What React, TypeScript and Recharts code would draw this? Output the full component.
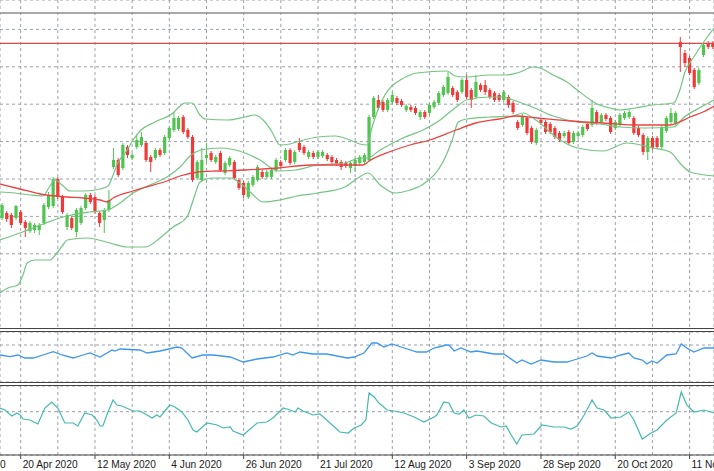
import React from 'react';
import { ComposedChart, Bar, Line, XAxis, YAxis, CartesianGrid, ReferenceLine } from 'recharts';

// ---- daily candles (price in chart points) ----
const OPEN = [
  111, 116, 114, 111, 117, 107, 98, 99, 99, 106,
  122, 123, 150, 132, 102, 111, 97, 106, 121, 134,
  132, 116, 109, 119, 162, 169, 161, 182, 171, 182,
  184, 186, 172, 171, 179, 176, 191, 199, 200, 212,
  199, 192, 151, 149, 171, 176, 167, 176, 156, 164,
  167, 149, 146, 132, 144, 149, 157, 152, 152, 159,
  167, 169, 179, 167, 186, 182, 172, 176, 172, 173,
  174, 172, 169, 167, 166, 161, 163, 166, 167, 169,
  212, 229, 227, 219, 227, 231, 228, 219, 222, 221,
  212, 217, 216, 222, 226, 234, 236, 241, 237, 237,
  249, 239, 232, 244, 244, 239, 236, 234, 229, 232,
  226, 207, 204, 211, 201, 186, 209, 207, 205, 201,
  196, 193, 197, 187, 193, 194, 205, 204, 217, 207,
  214, 211, 201, 204, 211, 212, 211, 201, 194, 177,
  191, 191, 182, 198, 207, 206, 287, 276, 271, 259,
  246, 274, 286, 286,
];
const CLOSE = [
  124, 110, 104, 123, 106, 101, 106, 104, 104, 124,
  134, 150, 132, 117, 114, 101, 119, 121, 134, 127,
  117, 106, 119, 129, 169, 154, 184, 174, 174, 189,
  192, 169, 167, 179, 174, 192, 201, 211, 211, 197,
  192, 149, 167, 169, 174, 169, 172, 159, 166, 171,
  151, 141, 134, 146, 152, 162, 152, 157, 159, 169,
  163, 179, 166, 177, 179, 176, 177, 172, 177, 177,
  170, 167, 165, 162, 163, 166, 169, 172, 174, 212,
  231, 221, 219, 229, 234, 226, 224, 223, 219, 216,
  217, 212, 224, 227, 236, 242, 252, 234, 229, 249,
  232, 229, 247, 239, 237, 232, 229, 229, 237, 224,
  217, 201, 213, 196, 187, 199, 206, 197, 197, 192,
  189, 196, 186, 196, 196, 202, 200, 221, 206, 214,
  210, 197, 207, 214, 216, 217, 196, 194, 177, 191,
  181, 182, 202, 211, 216, 216, 282, 266, 256, 242,
  259, 284, 282, 282,
];
const HIGH = [
  126, 118, 116, 124, 119, 109, 108, 106, 106, 126,
  137, 152, 152, 134, 116, 113, 121, 123, 136, 136,
  134, 118, 121, 139, 181, 171, 186, 184, 176, 194,
  197, 188, 174, 181, 181, 194, 203, 217, 213, 214,
  201, 194, 169, 181, 186, 178, 174, 178, 168, 173,
  169, 151, 148, 148, 154, 164, 159, 159, 161, 171,
  169, 181, 181, 179, 191, 184, 179, 178, 179, 179,
  176, 174, 171, 169, 168, 168, 171, 174, 176, 214,
  233, 234, 229, 231, 237, 233, 230, 225, 224, 223,
  219, 219, 226, 229, 238, 244, 257, 243, 239, 251,
  254, 241, 254, 246, 249, 241, 238, 236, 239, 234,
  228, 209, 215, 213, 203, 201, 211, 209, 207, 203,
  198, 198, 199, 198, 198, 204, 207, 229, 219, 216,
  216, 213, 209, 216, 218, 219, 213, 203, 196, 193,
  193, 193, 204, 213, 221, 218, 292, 279, 273, 261,
  261, 286, 288, 288,
];
const LOW = [
  109, 107, 101, 109, 104, 92, 96, 96, 94, 104,
  120, 121, 130, 115, 99, 99, 92, 104, 119, 125,
  115, 102, 96, 117, 160, 152, 159, 171, 169, 180,
  182, 167, 157, 169, 172, 174, 189, 197, 198, 195,
  190, 147, 149, 147, 167, 167, 165, 157, 154, 162,
  149, 139, 131, 130, 142, 147, 150, 150, 150, 157,
  161, 167, 164, 165, 177, 174, 170, 170, 170, 171,
  168, 165, 163, 159, 161, 156, 157, 163, 165, 167,
  210, 219, 217, 217, 225, 224, 222, 217, 217, 214,
  209, 210, 214, 220, 224, 232, 234, 232, 227, 235,
  230, 221, 230, 237, 234, 230, 227, 227, 227, 221,
  215, 199, 202, 194, 185, 184, 204, 195, 195, 190,
  187, 191, 184, 185, 191, 192, 198, 202, 204, 205,
  208, 195, 199, 202, 209, 210, 194, 192, 174, 169,
  179, 180, 180, 196, 205, 204, 257, 262, 254, 240,
  244, 272, 280, 280,
];

// ---- indicator lines: [bar position, value] ----
const UPPER_BAND = [
  [-0.45, 137], [2.8, 136], [6.0, 134], [8.8, 133], [10.3, 143], [11.4, 149], [12.9, 144], [14.6, 138],
  [17.8, 138], [21.1, 140], [22.8, 143], [23.9, 154], [24.9, 166], [26.5, 176], [28.2, 189], [29.7, 198],
  [32.9, 207], [36.8, 216], [38.3, 223], [39.4, 226], [40.9, 226], [42.6, 214], [43.7, 210], [48.6, 209],
  [52.3, 212], [54.4, 214], [56.6, 207], [58.1, 197], [59.8, 184], [62.0, 185], [64.1, 188], [68.0, 192],
  [71.7, 193], [74.9, 189], [77.0, 185], [78.6, 184], [79.6, 201], [80.9, 219], [82.4, 234], [83.9, 243],
  [85.7, 249], [89.3, 256], [95.8, 258], [97.5, 253], [99.9, 252], [105.0, 254], [108.5, 254], [111.5, 257],
  [114.3, 262], [115.8, 261], [118.6, 254], [121.6, 247], [123.8, 239], [128.1, 225], [130.9, 221], [133.0, 219],
  [136.3, 221], [140.1, 224], [144.6, 226], [145.9, 239], [147.0, 257], [148.9, 272], [151.8, 292], [153.3, 301],
];
const MIDDLE_BAND = [
  [-0.45, 89], [3.85, 96], [8.8, 105], [14.0, 113], [18.9, 117], [22.6, 119], [25.4, 126], [28.2, 136],
  [31.8, 144], [35.5, 152], [38.3, 162], [40.7, 174], [42.8, 179], [46.9, 181], [52.3, 176], [55.5, 169],
  [59.4, 158], [63.1, 159], [68.0, 164], [73.8, 166], [77.0, 171], [78.6, 171], [81.4, 179], [86.3, 191],
  [90.6, 199], [94.3, 209], [96.4, 217], [98.6, 225], [99.9, 229], [105.0, 232], [107.8, 232], [110.0, 229],
  [113.6, 223], [118.6, 213], [123.8, 207], [128.7, 205], [133.0, 202], [138.4, 201], [144.6, 202], [146.6, 211],
  [150.9, 223], [153.3, 229],
];
const LOWER_BAND = [
  [-0.45, 36], [1.27, 41], [3.4, 44], [4.5, 54], [5.4, 66], [7.1, 69], [10.3, 69], [11.8, 76],
  [13.1, 84], [14.0, 89], [18.3, 91], [23.2, 86], [26.9, 82], [30.8, 82], [34.0, 91], [36.8, 102],
  [39.8, 112], [41.5, 134], [42.6, 147], [45.4, 151], [49.1, 151], [51.2, 146], [53.4, 137], [56.2, 127],
  [59.8, 129], [63.5, 133], [68.0, 136], [73.8, 142], [76.6, 151], [78.8, 156], [81.4, 144], [84.6, 136],
  [87.8, 139], [91.0, 146], [94.9, 167], [96.9, 189], [98.2, 207], [99.9, 210], [105.0, 212], [110.0, 213],
  [112.1, 216], [115.2, 208], [119.5, 191], [123.8, 181], [129.4, 178], [134.5, 186], [140.1, 181], [143.8, 177],
  [145.9, 166], [148.1, 157], [153.3, 153],
];
const MOVING_AVG = [
  [-0.45, 145], [3.85, 140], [8.2, 135], [14.0, 132], [17.4, 131], [21.1, 129], [22.6, 127], [23.9, 131],
  [28.2, 138], [30.3, 141], [35.5, 148], [38.3, 153], [42.2, 157], [46.5, 158], [52.3, 159], [59.4, 161],
  [66.5, 164], [72.7, 164], [77.7, 164], [79.0, 168], [83.3, 177], [87.8, 184], [92.1, 189], [97.7, 199],
  [102.0, 206], [107.0, 210], [110.6, 213], [115.2, 211], [122.3, 208], [129.4, 206], [136.7, 204], [143.8, 204],
  [145.3, 206], [148.1, 212], [150.9, 217], [153.3, 223],
];
const OSC_BLUE = [
  [-0.45, 27], [1.7, 25.3], [3.4, 27], [4.9, 24], [6.7, 24], [8.8, 27], [11.0, 30.3], [12.9, 27],
  [15.3, 24], [17.4, 27], [18.9, 29], [21.1, 25], [23.7, 32], [24.3, 31], [25.4, 33], [29.7, 32],
  [31.2, 29], [34.0, 31], [37.7, 35], [38.7, 34], [40.9, 24], [43.2, 27], [45.4, 27], [49.1, 25],
  [51.9, 20], [54.9, 23], [58.3, 25], [61.3, 29], [62.6, 27], [64.1, 30], [66.9, 28], [69.9, 28],
  [74.3, 24], [75.8, 25], [77.9, 29], [79.6, 39], [80.7, 39], [82.2, 35], [83.9, 38], [85.9, 35],
  [89.3, 30], [91.3, 30], [93.0, 34], [95.6, 37], [96.2, 37], [97.3, 31], [98.8, 34], [100.9, 30],
  [102.2, 31], [105.9, 28], [108.0, 28], [110.8, 19], [111.9, 22], [113.9, 18], [116.0, 22], [118.8, 20],
  [121.6, 20], [123.1, 22], [125.9, 26], [127.0, 29], [128.1, 26], [131.1, 24], [133.2, 27], [134.9, 29],
  [136.0, 24], [137.8, 22], [138.8, 18], [139.9, 21], [141.0, 19], [143.1, 27], [145.1, 28], [146.2, 38],
  [147.4, 34], [148.9, 30], [151.1, 34], [153.3, 34],
];
const OSC_TEAL = [
  [-0.45, 47], [0.6, 45], [2.1, 39], [3.2, 42], [3.9, 40], [4.5, 36], [6.0, 35], [7.7, 31],
  [9.2, 47], [10.7, 53], [12.0, 47], [13.5, 32], [15.3, 32], [16.3, 29], [17.8, 42], [19.4, 40],
  [20.4, 35], [21.1, 29], [21.7, 29], [22.8, 43], [23.9, 55], [24.7, 50], [25.8, 49], [28.2, 44],
  [29.7, 44], [31.2, 40], [32.3, 37], [33.3, 40], [34.0, 38], [36.1, 50], [37.2, 48], [38.7, 43],
  [40.0, 35], [41.1, 25], [41.9, 23], [44.1, 32], [46.3, 30], [47.6, 27], [49.1, 28], [49.7, 24],
  [51.9, 20], [54.9, 32], [57.0, 33], [58.3, 37], [60.5, 47], [62.0, 45], [63.1, 43], [63.7, 47],
  [64.8, 44], [66.9, 40], [68.4, 41], [69.9, 35], [72.7, 23], [74.5, 22], [75.8, 27], [77.3, 30],
  [78.3, 35], [79.0, 62], [80.1, 58], [81.1, 52], [82.9, 45], [84.4, 44], [86.5, 42], [88.7, 38],
  [90.8, 33], [93.0, 38], [93.6, 40], [95.1, 53], [96.2, 52], [97.3, 42], [98.4, 41], [99.4, 45],
  [100.5, 37], [102.0, 40], [103.7, 39], [105.3, 32], [107.4, 28], [108.5, 29], [109.6, 20], [110.8, 11],
  [111.9, 20], [114.5, 21], [116.2, 30], [118.8, 28], [120.9, 28], [122.5, 26], [123.8, 29], [125.3, 40],
  [127.0, 55], [128.1, 47], [129.6, 45], [131.1, 37], [133.2, 38], [134.9, 43], [136.0, 35], [137.8, 16],
  [139.7, 22], [141.0, 25], [143.1, 35], [145.1, 42], [146.2, 63], [147.4, 50], [148.9, 43], [151.1, 45],
  [153.3, 42],
];

// ---- levels and axis ticks ----
const PRICE_GRID = [37.8, 75.2, 112.6, 150, 187.4, 224.8, 262.2, 299.6];
const RESISTANCE_LEVEL = 285.7;
const TOP_LEVEL = 316;
const BLUE_GRID = [15, 37];
const TEAL_GRID = [25.7, 35, 43.3];
const GRID_BARS = [4, 12, 20, 28, 36, 44, 52, 60, 68, 76, 84, 92, 100, 108, 116, 124, 132, 140, 148];
const LABEL_BARS = [-12, 4, 20, 36, 52, 68, 84, 100, 116, 132, 148];
const DATE_LABELS = [
  '27 Mar 2020', '20 Apr 2020', '12 May 2020', '4 Jun 2020', '26 Jun 2020', '21 Jul 2020',
  '12 Aug 2020', '3 Sep 2020', '28 Sep 2020', '20 Oct 2020', '11 Nov 2020',
];

const X_DOMAIN: [number, number] = [-0.45, 153.25];
const W = 714;

const candles = OPEN.map((o, i) => ({
  x: i,
  open: o,
  close: CLOSE[i],
  high: HIGH[i],
  low: LOW[i],
  range: [LOW[i], HIGH[i]],
}));
const toPoints = (arr: number[][]) => arr.map(([x, v]) => ({ x, v }));

const GREEN = '#4fc54f';
const RED = '#f03a3a';
const GRID_COLOR = '#9aa1ab';
const BAND_COLOR = '#74c482';

const Candle = (props: any) => {
  const { x, y, width, height, payload } = props;
  if (payload == null || x == null || y == null) return null;
  const top = Math.min(y, y + height);
  const h = Math.abs(height);
  const cx = x + width / 2;
  const { open, close, high, low } = payload;
  const span = high - low || 1;
  const py = (v: number) => top + ((high - v) / span) * h;
  const up = close >= open;
  const color = up ? GREEN : RED;
  const bTop = py(Math.max(open, close));
  const bBot = py(Math.min(open, close));
  return (
    <g>
      <line x1={cx} x2={cx} y1={top} y2={top + h} stroke={color} strokeWidth={1} />
      <rect x={cx - 1.6} y={bTop} width={3.2} height={Math.max(1, bBot - bTop)} fill={color} />
    </g>
  );
};

const DateTick = (props: any) => {
  const { x, y, payload } = props;
  const idx = LABEL_BARS.indexOf(payload.value);
  if (idx < 0) return null;
  return (
    <text
      x={x + 2}
      y={y - 1}
      dy="0.71em"
      textAnchor="start"
      fontSize={10.2}
      fontFamily="'Liberation Sans', Arial, sans-serif"
      fill="#1a1a1a"
    >
      {DATE_LABELS[idx]}
    </text>
  );
};

const Sep = ({ top }: { top: number }) => (
  <div style={{ position: 'absolute', left: 0, top, width: W, height: 1, background: '#444' }} />
);

export default function App() {
  return (
    <div style={{ position: 'absolute', left: 0, top: 0, width: W, height: 471, background: '#fff', overflow: 'hidden' }}>
      <div style={{ position: 'absolute', left: 0, top: 0 }}>
        <ComposedChart width={W} height={329} data={candles} margin={{ top: 0, right: 0, bottom: 0, left: 0 }}>
          <XAxis dataKey="x" type="number" domain={X_DOMAIN} allowDataOverflow hide ticks={GRID_BARS} />
          <YAxis type="number" domain={[0, 329]} allowDataOverflow hide ticks={PRICE_GRID} />
          <CartesianGrid stroke={GRID_COLOR} strokeDasharray="3 3" />
          <ReferenceLine y={TOP_LEVEL} stroke="#8c8c8c" strokeWidth={1.3} />
          <ReferenceLine y={RESISTANCE_LEVEL} stroke="#e84444" strokeWidth={1.2} />
          <Bar dataKey="range" barSize={3} shape={<Candle />} isAnimationActive={false} />
          <Line data={toPoints(UPPER_BAND)} dataKey="v" type="monotone" stroke={BAND_COLOR} strokeWidth={1.2} dot={false} activeDot={false} isAnimationActive={false} />
          <Line data={toPoints(MIDDLE_BAND)} dataKey="v" type="monotone" stroke={BAND_COLOR} strokeWidth={1.2} dot={false} activeDot={false} isAnimationActive={false} />
          <Line data={toPoints(LOWER_BAND)} dataKey="v" type="monotone" stroke={BAND_COLOR} strokeWidth={1.2} dot={false} activeDot={false} isAnimationActive={false} />
          <Line data={toPoints(MOVING_AVG)} dataKey="v" type="monotone" stroke="#ee4040" strokeWidth={1.3} dot={false} activeDot={false} isAnimationActive={false} />
        </ComposedChart>
      </div>
      <Sep top={328} />
      <Sep top={331} />
      <div style={{ position: 'absolute', left: 0, top: 332 }}>
        <ComposedChart width={W} height={50} data={toPoints(OSC_BLUE)} margin={{ top: 0, right: 0, bottom: 0, left: 0 }}>
          <XAxis dataKey="x" type="number" domain={X_DOMAIN} allowDataOverflow hide ticks={GRID_BARS} />
          <YAxis type="number" domain={[0, 50]} allowDataOverflow hide ticks={BLUE_GRID} />
          <CartesianGrid stroke={GRID_COLOR} strokeDasharray="3 3" />
          <Line dataKey="v" type="linear" stroke="#3d96f2" strokeWidth={1.3} dot={false} activeDot={false} isAnimationActive={false} />
        </ComposedChart>
      </div>
      <Sep top={382} />
      <Sep top={385} />
      <div style={{ position: 'absolute', left: 0, top: 386 }}>
        <ComposedChart width={W} height={85} data={toPoints(OSC_TEAL)} margin={{ top: 0, right: 0, bottom: 0, left: 0 }}>
          <XAxis xAxisId="grid" dataKey="x" type="number" domain={X_DOMAIN} allowDataOverflow hide ticks={GRID_BARS} />
          <XAxis
            xAxisId="dates"
            dataKey="x"
            type="number"
            domain={X_DOMAIN}
            allowDataOverflow
            ticks={LABEL_BARS}
            interval={0}
            height={16}
            tickSize={4}
            tickMargin={3}
            stroke="#444"
            tick={<DateTick />}
          />
          <YAxis type="number" domain={[0, 69]} allowDataOverflow hide ticks={TEAL_GRID} />
          <CartesianGrid xAxisId="grid" stroke={GRID_COLOR} strokeDasharray="3 3" />
          <Line xAxisId="grid" dataKey="v" type="linear" stroke="#44b9b2" strokeWidth={1.2} dot={false} activeDot={false} isAnimationActive={false} />
        </ComposedChart>
      </div>
    </div>
  );
}
